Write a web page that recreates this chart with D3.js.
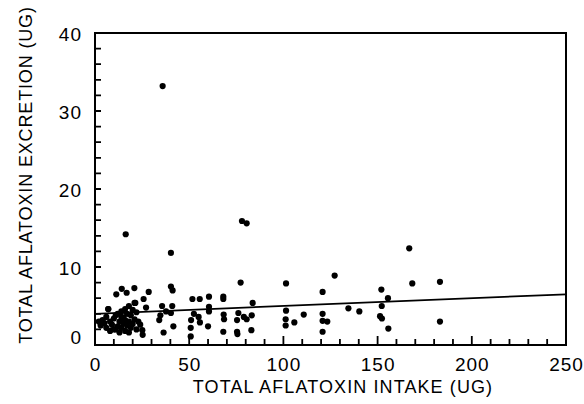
<!DOCTYPE html>
<html>
<head>
<meta charset="utf-8">
<script src="https://cdn.jsdelivr.net/npm/d3@7"></script>
<style>
  body { margin: 0; background: #fff; }
  text { font-family: "Liberation Sans", Arial, sans-serif; fill: #000; }
</style>
</head>
<body>
<div id="chart"></div>
<script>
// Intake (x) and excretion (y)
const intake = [
    35.9, 16.3, 40.3, 78.0, 80.5, 166.8, 77.3, 101.4, 127.2, 168.4,
    183.1, 183.1, 120.8, 152.0, 155.5, 152.2, 151.3, 152.3, 155.7, 134.5,
    140.3, 120.8, 120.8, 123.3, 120.8, 110.8, 105.8, 101.4, 101.2, 101.2,
    83.7, 83.2, 80.5, 79.0, 83.0, 75.4, 76.1, 75.4, 75.6, 68.1,
    68.1, 68.3, 68.5, 68.1, 60.5, 60.5, 60.5, 60.0, 55.6, 51.7,
    52.5, 51.0, 55.0, 55.7, 50.8, 50.8, 40.3, 41.2, 41.0, 40.3,
    41.6, 36.4, 35.6, 34.7, 34.1, 37.7, 28.5, 27.1, 25.8, 25.1,
    25.3, 20.9, 21.4, 14.2, 16.8, 11.3, 7.1,
    3, 4, 5, 6, 6, 7, 8, 8, 9, 10,
    10, 11, 12, 12, 13, 13, 14, 14, 15, 15,
    16, 16, 16, 17, 17, 18, 18, 19, 19, 20,
    20, 21, 22, 22, 23, 24, 2, 11, 14, 18, 21
];
const excretion = [
    33.2, 14.2, 11.8, 15.9, 15.6, 12.4, 8.0, 7.9, 8.9, 7.9,
    8.1, 3.0, 6.8, 7.1, 6.0, 5.0, 3.7, 3.4, 2.1, 4.7,
    4.3, 4.0, 3.1, 3.0, 1.7, 3.9, 2.9, 4.4, 3.3, 2.5,
    5.4, 3.8, 3.3, 3.6, 1.9, 3.2, 4.1, 1.7, 1.4, 6.2,
    5.9, 3.9, 3.3, 1.7, 6.2, 4.9, 4.3, 2.4, 5.9, 5.9,
    4.0, 3.2, 3.6, 2.9, 2.2, 1.1, 7.5, 7.0, 5.0, 4.1,
    2.4, 1.6, 5.0, 3.8, 3.2, 4.3, 6.8, 4.8, 5.9, 1.9,
    1.3, 7.3, 5.4, 7.2, 6.7, 6.5, 4.6,
    2.5, 3.2, 2.8, 3.6, 2.2, 4.6, 3.0, 1.8, 2.6, 3.4,
    2.0, 3.8, 2.4, 4.0, 1.6, 3.0, 4.3, 2.2, 3.5, 2.8,
    4.6, 1.8, 3.2, 2.5, 4.0, 3.0, 5.0, 2.2, 3.8, 4.5,
    2.7, 3.3, 4.2, 2.0, 3.0, 2.6, 3.0, 2.0, 3.6, 1.6, 5.4
];

// fitted line end points
const fitX = [0, 250];
const fitY = [4.0, 6.5];

const xTicks = [0, 50, 100, 150, 200, 250];
const yTicks = [0, 10, 20, 30, 40];
const xMinor = d3.range(0, 251, 10);
const yMinor = d3.range(0, 41, 2);

const W = 584, H = 404;
const margin = {top: 33, right: 18, bottom: 59, left: 95};
const width = W - margin.left - margin.right;
const height = H - margin.top - margin.bottom;

const svg = d3.select('#chart').append('svg')
    .attr('width', W)
    .attr('height', H);

const g = svg.append('g')
    .attr('transform', `translate(${margin.left},${margin.top})`);

const x = d3.scaleLinear().domain([0, 250]).range([0, width]);
const y = d3.scaleLinear().domain([0, 40]).range([height, 0]);

// inward ticks along the bottom and left edges, one path each
const bottomTicks = d3.path();
xMinor.forEach(d => {
    bottomTicks.moveTo(x(d), height);
    bottomTicks.lineTo(x(d), height - (xTicks.includes(d) ? 9 : 6));
});
g.append('path')
    .attr('d', bottomTicks.toString())
    .attr('fill', 'none')
    .attr('stroke', '#000')
    .attr('stroke-width', 1.8);

const leftTicks = d3.path();
yMinor.forEach(d => {
    leftTicks.moveTo(0, y(d));
    leftTicks.lineTo(6, y(d));
});
g.append('path')
    .attr('d', leftTicks.toString())
    .attr('fill', 'none')
    .attr('stroke', '#000')
    .attr('stroke-width', 1.8);

// tick labels
g.append('g')
    .attr('transform', `translate(0,${height})`)
    .call(d3.axisBottom(x).tickValues(xTicks).tickSize(0).tickPadding(13))
    .call(a => a.select('.domain').remove())
    .selectAll('text')
    .style('font-size', '19px')
    .style('letter-spacing', '1px')
    .style('font-family', '"Liberation Sans", Arial, sans-serif');

g.append('g')
    .call(d3.axisLeft(y).tickValues(yTicks).tickSize(0).tickPadding(13))
    .call(a => a.select('.domain').remove())
    .selectAll('text')
    .attr('dy', d => d === 0 ? '-0.1em' : '0.38em')
    .style('font-size', '19px')
    .style('letter-spacing', '1px')
    .style('font-family', '"Liberation Sans", Arial, sans-serif');

// frame
g.append('rect')
    .attr('width', width)
    .attr('height', height)
    .attr('fill', 'none')
    .attr('stroke', '#000')
    .attr('stroke-width', 2);

// regression line
g.append('line')
    .attr('x1', x(fitX[0])).attr('y1', y(fitY[0]))
    .attr('x2', x(fitX[1])).attr('y2', y(fitY[1]))
    .attr('stroke', '#000')
    .attr('stroke-width', 1.8);

// points
g.selectAll('.dot')
    .data(intake.map((v, i) => [v, excretion[i]]))
    .enter()
    .append('circle')
    .attr('class', 'dot')
    .attr('cx', d => x(d[0]))
    .attr('cy', d => y(d[1]))
    .attr('r', 3.1)
    .attr('fill', '#000');

// axis titles
svg.append('text')
    .attr('x', 343)
    .attr('y', 393)
    .attr('text-anchor', 'middle')
    .style('font-size', '18px')
    .style('letter-spacing', '1.1px')
    .text('TOTAL AFLATOXIN INTAKE (UG)');

svg.append('text')
    .attr('transform', 'translate(32,175) rotate(-90)')
    .attr('text-anchor', 'middle')
    .style('font-size', '18px')
    .style('letter-spacing', '0.85px')
    .text('TOTAL AFLATOXIN EXCRETION (UG)');
</script>
</body>
</html>
